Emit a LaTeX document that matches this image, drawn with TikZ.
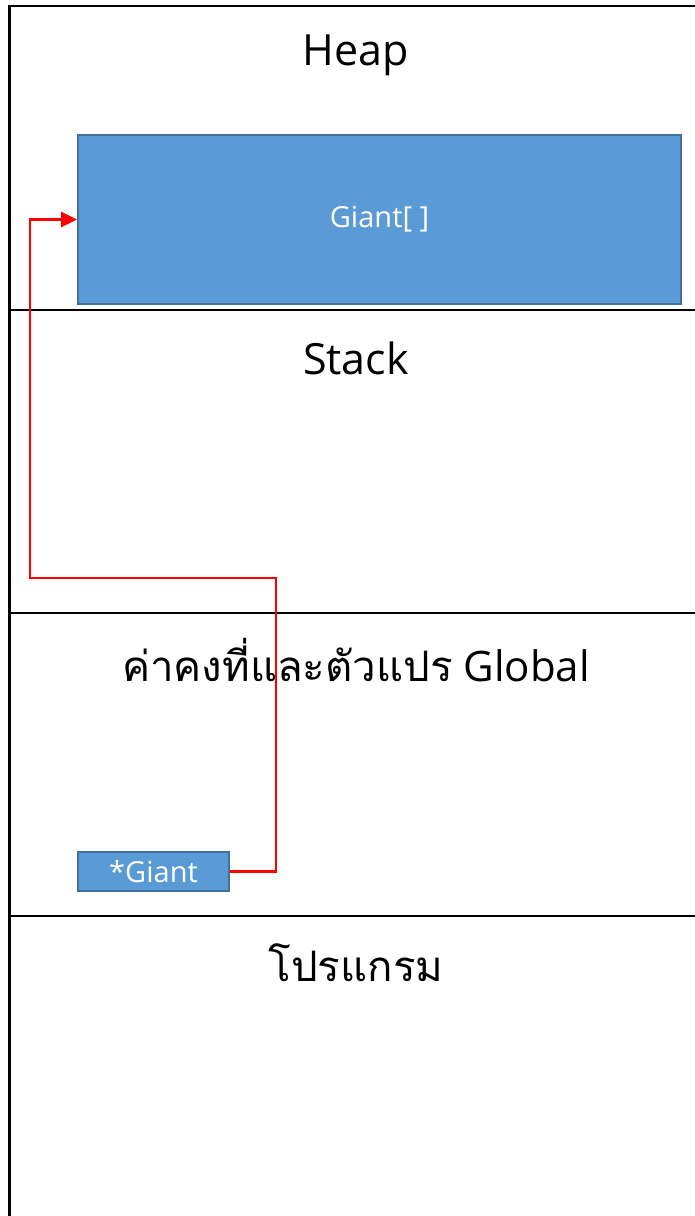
\documentclass[tikz,border=0pt]{standalone}
\usepackage{fontspec}
\setmainfont{Open Sans}
\newfontfamily\thaifont[Script=Thai]{Loma}
\usetikzlibrary{arrows.meta}
\definecolor{boxblue}{HTML}{5B9BD5}
\definecolor{boxedge}{HTML}{41719C}
\tikzset{
  frame/.style={line width=2.8pt, black},
  title/.style={font=\fontsize{43}{50}\selectfont, text=black, inner sep=0pt},
  thaititle/.style={font=\fontsize{42}{50}\selectfont, text=black, inner sep=0pt},
  memblock/.style={draw=boxedge, line width=1.8pt, fill=boxblue, text=white, inner sep=0pt, font=\fontsize{29}{34}\selectfont},
  pointer/.style={draw=red, line width=2.6pt, -{Triangle[length=16pt,width=15pt]}}
}
\begin{document}
\begin{tikzpicture}[x=1pt,y=-1pt]
\useasboundingbox (0,0) rectangle (695,1216);
% frame
\draw[frame] (9.5,1216) -- (9.5,6) -- (695,6);
\draw[frame] (9.5,310) -- (695,310);
\draw[frame] (9.5,613) -- (695,613);
\draw[frame] (9.5,916) -- (695,916);
% titles
\node[title] (heap) at (356,55) {Heap};
\node[title] (stack) at (356,358) {Stack};
\node[thaititle] (glob) at (356,660) {{\thaifont ค่าคงที่และตัวแปร} Global};
\node[thaititle] (prog) at (356,963) {\thaifont โปรแกรม};
% blocks
\node[memblock, minimum width=603pt, minimum height=169pt] (arr) at (379.5,219.5) {Giant[ ]};
\node[memblock, minimum width=151pt, minimum height=39pt] (ptr) at (153.5,871.5) {*Giant};
% pointer
\coordinate (c1) at (276,871.5);
\coordinate (c2) at (276,578);
\coordinate (c3) at (30,578);
\coordinate (c4) at (30,219.5);
\draw[pointer] (ptr.east) -- (c1) -- (c2) -- (c3) -- (c4) -- (arr.west);
\end{tikzpicture}
\end{document}
